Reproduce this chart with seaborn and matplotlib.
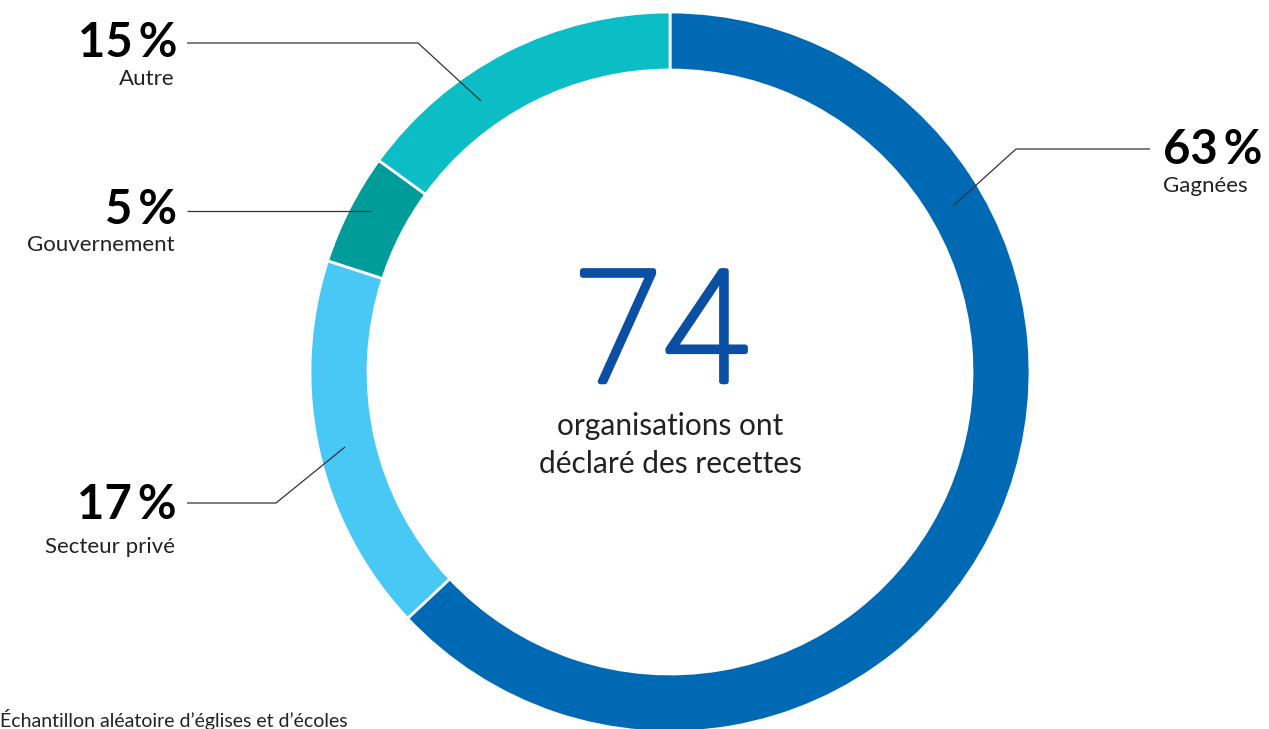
import matplotlib.pyplot as plt
import seaborn as sns
from matplotlib import patheffects

sns.set_theme(style="white")
plt.rcParams['font.family'] = ['Lato', 'DejaVu Sans']

# Data
categories = ['Gagnées', 'Secteur privé', 'Gouvernement', 'Autre']
shares = [63, 17, 5, 15]
colors = ['#0069b4', '#48c8f5', '#009c9a', '#0bbdc4']
total_orgs = 74

W, H = 1269, 729
fig = plt.figure(figsize=(W / 100, H / 100), dpi=100)
ax = fig.add_axes([0, 0, 1, 1])

cx, cy, r = 670, H - 372, 360
ax.pie(shares, colors=colors, startangle=90, counterclock=False,
       center=(cx, cy), radius=r, frame=True,
       wedgeprops=dict(width=58, edgecolor='white', linewidth=2))
ax.set_xlim(0, W)
ax.set_ylim(0, H)
ax.set_aspect('equal')
ax.axis('off')

# centre text: light face thickened a little with a stroke
big = ax.text(662, H - 339, str(total_orgs), ha='center', va='center', fontsize=112,
              family=['Roboto', 'Lato'], fontweight='light', color='#0a4fa3')
big.set_path_effects([patheffects.withStroke(linewidth=4, foreground='#0a4fa3')])
ax.text(670, H - 426, 'organisations ont', ha='center', va='center',
        fontsize=21.5, color='#222222')
ax.text(670, H - 464, 'déclaré des recettes', ha='center', va='center',
        fontsize=21.5, color='#222222')

# leader lines (pixel coordinates, top-down)
lines = {
    'Gagnées': [(953, 206), (1016, 149), (1150, 149)],
    'Autre': [(187, 43), (418, 43), (481, 101)],
    'Gouvernement': [(187, 211), (371, 211)],
    'Secteur privé': [(187, 503), (276, 503), (345, 447)],
}
for pts in lines.values():
    xs = [p[0] for p in pts]
    ys = [H - p[1] for p in pts]
    ax.plot(xs, ys, color='#333333', lw=0.9, solid_capstyle='butt')

# labels: (x, y pct, y name, ha)
label_pos = {
    'Gagnées': (1163, 150, 186, 'left'),
    'Autre': (177, 43, 79, 'right'),
    'Gouvernement': (177, 210, 245, 'right'),
    'Secteur privé': (177, 505, 547, 'right'),
}
for cat, val in zip(categories, shares):
    x, ypct, yname, ha = label_pos[cat]
    ax.text(x, H - ypct, f'{val}\u2009%', ha=ha, va='center', fontsize=34,
            fontweight='bold', color='black')
    ax.text(x - (2 if ha == 'right' else 0), H - yname, cat, ha=ha, va='center',
            fontsize=16, color='#222222')

ax.text(0, H - 719, 'Échantillon aléatoire d’églises et d’écoles', ha='left',
        va='center', fontsize=14, color='#222222')

fig.savefig('out.png', dpi=100, facecolor='white')
